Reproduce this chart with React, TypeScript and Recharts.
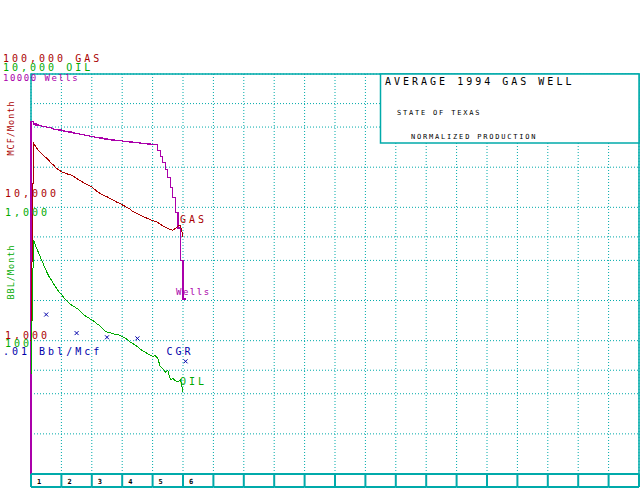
import React from "react";
import {
  LineChart,
  Line,
  XAxis,
  YAxis,
  CartesianGrid,
  ReferenceArea,
} from "recharts";

// monthly values, index = month since first production
const GAS_MCF = [
  1000, 30400, 28300, 26700, 25600, 24500, 23500, 22500, 21500, 20600, 19700,
  19100, 18500, 18200, 17900, 17600, 17400, 17000, 16500, 16000, 15600,
  15200, 14900, 14600, 14200, 13700, 13200, 12800, 12500, 12200, 12000,
  11700, 11400, 11200, 10900, 10700, 10450, 10200, 9950, 9700, 9350,
  9150, 8950, 8750, 8550, 8400, 8250, 8100, 7950, 7850, 7700,
  7500, 7250, 7100, 6950, 6800, 6750, 6950, 7250, 7350, 6000,
];

const OIL_BBL = [
  55, 570, 505, 455, 410, 370, 335, 305, 285, 265, 248,
  232, 222, 210, 200, 192, 185, 180, 175, 170, 162,
  156, 151, 147, 143, 139, 134, 130, 124, 119, 116,
  115, 113, 112, 111, 110, 107, 105, 102, 98, 96,
  93, 90, 87, 84, 82, 80, 78, 76, 77, 74,
  64, 62, 58, 60, 51, 52, 50, 49, 51, 41,
];

const WELLS = [
  10, 4400, 4220, 4150, 4090, 4060, 4020, 3980, 3950, 3900, 3860,
  3820, 3800, 3760, 3720, 3700, 3670, 3630, 3590, 3560, 3540,
  3510, 3470, 3440, 3420, 3390, 3360, 3330, 3310, 3280, 3260,
  3240, 3220, 3200, 3180, 3160, 3150, 3130, 3120, 3100, 3090,
  3070, 3060, 3050, 3030, 3010, 3000, 2990, 2980, 2970, 2960,
  2660, 2400, 2180, 1930, 1670, 1410, 1190, 920, 700, 400, 205,
];

const CGR_MONTHS = [6, 18, 30, 42, 61];
const CGR_BBL_MCF = [0.0157, 0.0114, 0.0106, 0.0104, 0.007];

const YEAR_LABELS = ["1", "2", "3", "4", "5", "6"];
const YEAR_COUNT = 20;
const DECADES = [100, 1000, 10000];

const TEAL = "#00AAAA";
const RED = "#AA0000";
const GREEN = "#00AA00";
const MAGENTA = "#AA00AA";
const BLUE = "#0000AA";
const FONT = "'DejaVu Sans Mono', 'Liberation Mono', monospace";

const W = 640;
const H = 491;
const LEFT = 31;
const RIGHT = 1;
const TOP = 74;
const STRIP = 17;
const PLOT_BOTTOM = H - STRIP;
const COL_W = (W - LEFT - RIGHT) / YEAR_COUNT;

const gasData = GAS_MCF.map((v, m) => ({ m, v }));
const oilData = OIL_BBL.map((v, m) => ({ m, v }));
const wellData = WELLS.map((v, m) => ({ m, v }));
const cgrData = CGR_MONTHS.map((m, i) => ({ m, v: CGR_BBL_MCF[i] }));

const xTicks = Array.from({ length: YEAR_COUNT + 1 }, (_, i) => i * 12);
const gridTicks = [
  ...DECADES.flatMap((d) => [1, 2, 3, 4, 5, 6, 7, 8, 9].map((k) => k * d)),
  100000,
];

const YearTick = (props: any) => {
  const { x, payload } = props;
  const idx = Math.round(payload.value / 12);
  return (
    <g>
      <line x1={x} y1={PLOT_BOTTOM} x2={x} y2={PLOT_BOTTOM + 13} stroke={TEAL} strokeWidth={2} />
      {idx < YEAR_COUNT && (
        <line x1={x} y1={PLOT_BOTTOM + 13} x2={x + COL_W} y2={PLOT_BOTTOM + 13} stroke={TEAL} strokeWidth={2} />
      )}
      {idx < YEAR_LABELS.length && (
        <text x={x + 6} y={PLOT_BOTTOM + 10} fontSize={7} fontWeight="bold" fontFamily={FONT} fill="#000">
          {YEAR_LABELS[idx]}
        </text>
      )}
    </g>
  );
};

const XMark = (props: any) => {
  const { cx, cy } = props;
  if (cx == null || cy == null) return null;
  return (
    <g stroke={BLUE} strokeWidth={1}>
      <line x1={cx - 2} y1={cy - 2} x2={cx + 2} y2={cy + 2} />
      <line x1={cx - 2} y1={cy + 2} x2={cx + 2} y2={cy - 2} />
    </g>
  );
};

const Label = ({ x, y, color, size = 10, spacing = 3, children }: any) => (
  <text
    x={x}
    y={y}
    fill={color}
    fontSize={size}
    fontFamily={FONT}
    style={{ letterSpacing: spacing }}
  >
    {children}
  </text>
);

const VLabel = ({ cx, cy, color, children }: any) => (
  <text
    x={cx}
    y={cy}
    fill={color}
    fontSize={8.5}
    fontFamily={FONT}
    textAnchor="middle"
    dominantBaseline="central"
    transform={`rotate(-90 ${cx} ${cy})`}
    style={{ letterSpacing: 1 }}
  >
    {children}
  </text>
);

export default function App() {
  return (
    <div style={{ position: "relative", width: W, height: H, background: "#fff" }}>
      <style>{"body{margin:0}"}</style>
      <LineChart width={W} height={H} margin={{ top: TOP, right: RIGHT, bottom: 0, left: LEFT }}>
        <CartesianGrid
          yAxisId="gas"
          stroke={TEAL}
          strokeDasharray="1 2"
          horizontal
          vertical
        />
        <XAxis
          dataKey="m"
          type="number"
          domain={[0, 240]}
          ticks={xTicks}
          interval={0}
          height={STRIP}
          axisLine={{ stroke: TEAL, strokeWidth: 2 }}
          tickLine={false}
          tick={<YearTick />}
        />
        <YAxis yAxisId="gas" hide scale="log" domain={[100, 100000]} ticks={gridTicks} allowDataOverflow />
        <YAxis yAxisId="oil" hide scale="log" domain={[10, 10000]} allowDataOverflow />
        <YAxis yAxisId="wells" hide scale="log" domain={[10, 10000]} allowDataOverflow />
        <YAxis yAxisId="cgr" hide scale="log" domain={[0.001, 1]} allowDataOverflow />
        <ReferenceArea
          yAxisId="gas"
          x1={0}
          x2={240}
          y1={100}
          y2={100000}
          fill="none"
          stroke={TEAL}
          strokeWidth={1.5}
        />
        <Line
          data={wellData}
          dataKey="v"
          yAxisId="wells"
          type="stepBefore"
          stroke={MAGENTA}
          strokeWidth={1.2}
          shapeRendering="crispEdges"
          dot={false}
          isAnimationActive={false}
        />
        <Line
          data={gasData}
          dataKey="v"
          yAxisId="gas"
          type="linear"
          stroke={RED}
          strokeWidth={1}
          shapeRendering="crispEdges"
          dot={false}
          isAnimationActive={false}
        />
        <Line
          data={oilData}
          dataKey="v"
          yAxisId="oil"
          type="linear"
          stroke={GREEN}
          strokeWidth={1}
          shapeRendering="crispEdges"
          dot={false}
          isAnimationActive={false}
        />
        <Line
          data={cgrData}
          dataKey="v"
          yAxisId="cgr"
          stroke="none"
          dot={<XMark />}
          isAnimationActive={false}
        />
      </LineChart>
      <svg
        width={W}
        height={H}
        style={{ position: "absolute", left: 0, top: 0, pointerEvents: "none" }}
      >
        <rect x={380.5} y={74} width={258.5} height={69} fill="#fff" stroke={TEAL} strokeWidth={1.5} />
        <Label x={385} y={85} color="#000">AVERAGE 1994 GAS WELL</Label>
        <Label x={397} y={115} color="#000" size={7} spacing={1.8}>STATE OF TEXAS</Label>
        <Label x={411} y={138.5} color="#000" size={7} spacing={1.8}>NORMALIZED PRODUCTION</Label>

        <Label x={3} y={62} color={RED}>100,000 GAS</Label>
        <Label x={3} y={70.5} color={GREEN}>10,000 OIL</Label>
        <Label x={3} y={80.5} color={MAGENTA} size={9} spacing={1.5}>10000 Wells</Label>
        <VLabel cx={11} cy={128} color={RED}>MCF/Month</VLabel>
        <Label x={5} y={196.5} color={RED}>10,000</Label>
        <Label x={5} y={215.5} color={GREEN}>1,000</Label>
        <VLabel cx={11} cy={272} color={GREEN}>BBL/Month</VLabel>
        <Label x={5} y={338.5} color={RED}>1,000</Label>
        <Label x={5} y={346.5} color={GREEN}>100</Label>
        <Label x={3} y={354.5} color={BLUE}>.01 Bbl/Mcf</Label>

        <Label x={180} y={222.5} color={RED}>GAS</Label>
        <Label x={176} y={294.5} color={MAGENTA} size={9} spacing={1.5}>Wells</Label>
        <Label x={166.5} y={354.5} color={BLUE}>CGR</Label>
        <Label x={180} y={384.5} color={GREEN}>OIL</Label>
      </svg>
    </div>
  );
}
